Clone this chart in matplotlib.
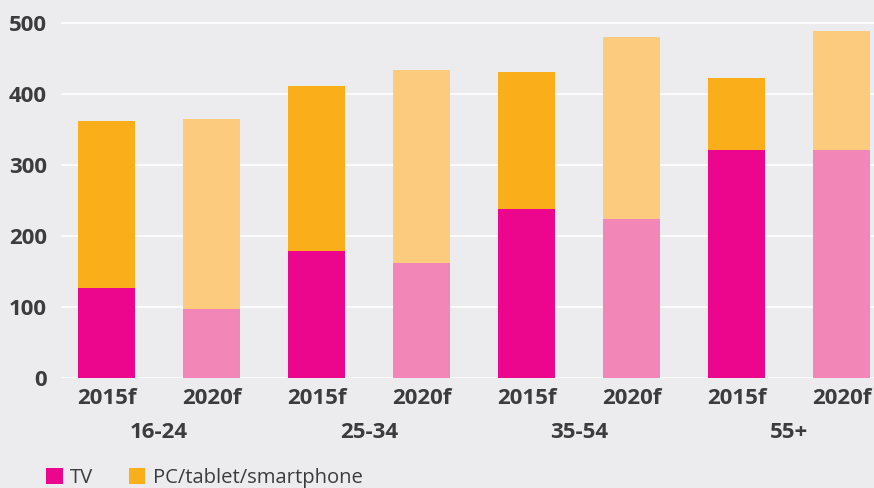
import matplotlib
matplotlib.use("Agg")
import matplotlib.pyplot as plt
from matplotlib.patches import Patch
import numpy as np

groups = ["16-24", "25-34", "35-54", "55+"]
years = ["2015f", "2020f"]
tv = [127, 97, 179, 162, 238, 224, 321, 321]
pc_total = [362, 365, 411, 434, 431, 480, 422, 489]
pc = [t - v for t, v in zip(pc_total, tv)]
yticks = [0, 100, 200, 300, 400, 500]

tv_cols = ["#EC068D", "#F287B7"]
pc_cols = ["#FAAF1A", "#FDCB7D"]
bg = "#ECECEE"
txt = "#3C3C3C"

fam = ["Open Sans", "DejaVu Sans"]
plt.rcParams["font.family"] = fam

fig = plt.figure(figsize=(8.74, 4.88), dpi=100, facecolor=bg)
ax = fig.add_axes([61 / 874, (488 - 378) / 488, 1 - 61 / 874, 378 / 488])
ax.set_facecolor(bg)

x = np.arange(len(tv))
tvc = [tv_cols[i % 2] for i in range(len(tv))]
pcc = [pc_cols[i % 2] for i in range(len(tv))]
ax.bar(x, tv, width=0.543, color=tvc, zorder=3)
ax.bar(x, pc, bottom=tv, width=0.543, color=pcc, zorder=3)

ax.set_xlim(-0.433, 7.31)
ax.set_ylim(0, 532)
ax.set_yticks(yticks)
ax.set_yticklabels([str(v) for v in yticks], fontsize=16, fontweight="bold", color=txt)
ax.yaxis.grid(True, color="white", linewidth=1.2, zorder=0)
ax.tick_params(axis="y", length=0, pad=10)
ax.set_xticks(x)
ax.set_xticklabels([years[i % 2] for i in range(len(tv))], fontsize=16,
                   fontweight="bold", color=txt)
ax.tick_params(axis="x", length=0, pad=7.5)
for s in ax.spines.values():
    s.set_visible(False)

trans = ax.get_xaxis_transform()
for gi, g in enumerate(groups):
    ax.text(2 * gi + 0.5, -(432 - 378) / 378, g, transform=trans,
            ha="center", va="center", fontsize=16, fontweight="bold", color=txt,
            clip_on=False)

handles = [Patch(facecolor=tv_cols[0]), Patch(facecolor=pc_cols[0])]
leg = fig.legend(handles, ["TV", "PC/tablet/smartphone"], loc="center left",
                 bbox_to_anchor=(42 / 874, (488 - 478) / 488), ncol=2, frameon=False,
                 handlelength=0.82, handleheight=0.82, handletextpad=0.36,
                 columnspacing=1.75, borderaxespad=0, borderpad=0.2,
                 prop={"family": fam, "size": 14.6})
for t in leg.get_texts():
    t.set_color(txt)

fig.savefig("out.png", dpi=100, facecolor=bg)
